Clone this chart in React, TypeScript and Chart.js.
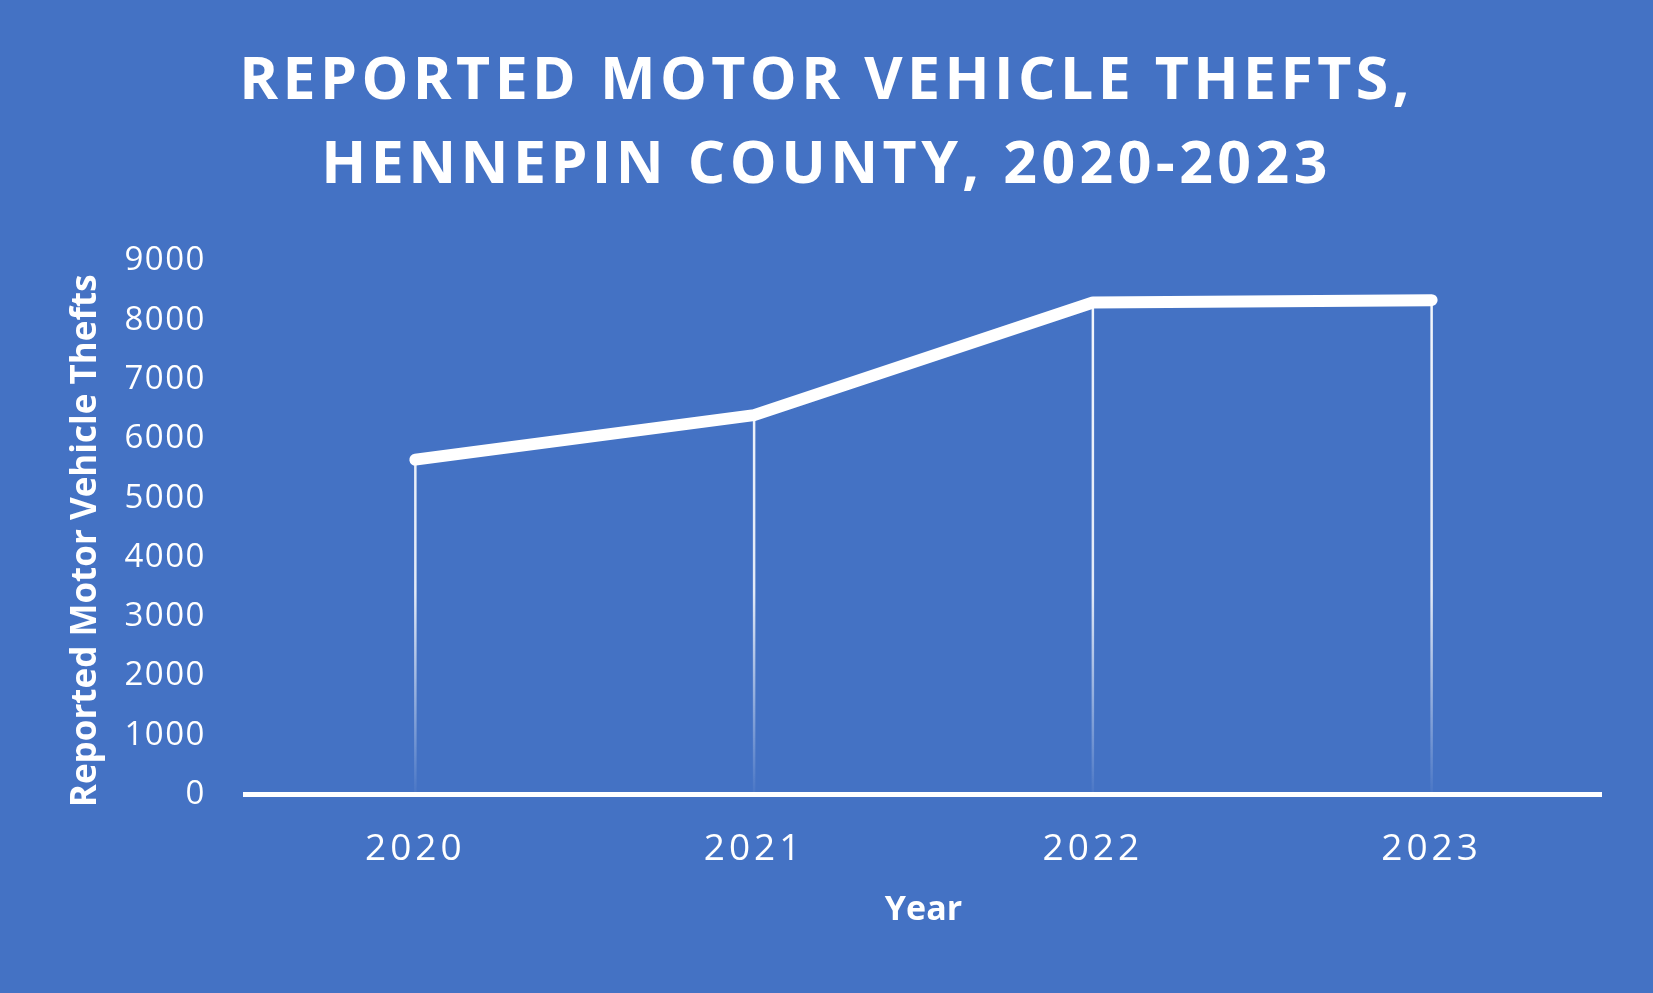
import React, { useEffect, useRef } from "react";
import { Chart, registerables } from "chart.js";

Chart.register(...registerables);

// ---- data ----
const years: string[] = ["2020", "2021", "2022", "2023"];
const thefts: number[] = [5650, 6400, 8300, 8340];
const titleLines: string[] = ["REPORTED MOTOR VEHICLE THEFTS,", "HENNEPIN COUNTY, 2020-2023"];
const yAxisTitle = "Reported Motor Vehicle Thefts";
const xAxisTitle = "Year";
const yMin = 0;
const yMax = 9000;
const yStep = 1000;

const BG = "#4472C4";
const FONT = "'Open Sans', 'Noto Sans', sans-serif";

function patchDraw(obj: any, key: string, spacing: string, dy = 0) {
  if (!obj || obj["__sp_" + key]) return;
  const orig = obj[key];
  obj[key] = function (...args: any[]) {
    const ctx = this.ctx as any;
    ctx.save();
    ctx.letterSpacing = spacing;
    if (dy) ctx.translate(0, dy);
    try {
      return orig.apply(this, args);
    } finally {
      ctx.restore();
    }
  };
  obj["__sp_" + key] = true;
}

const spacingPlugin = {
  id: "letterSpacing",
  beforeDraw(chart: any) {
    patchDraw(chart.titleBlock, "draw", "4.4px");
    patchDraw(chart.scales.x, "drawLabels", "4px");
    patchDraw(chart.scales.y, "drawLabels", "1.5px");
    patchDraw(chart.scales.y, "drawTitle", "0px", 13);
  },
};

const dropLinePlugin = {
  id: "dropLines",
  beforeDatasetsDraw(chart: any) {
    const { ctx, chartArea, scales } = chart;
    const xs = scales.x;
    const ys = scales.y;
    const grad = ctx.createLinearGradient(0, chartArea.top, 0, chartArea.bottom);
    grad.addColorStop(0, "rgba(255,255,255,0.95)");
    grad.addColorStop(0.62, "rgba(255,255,255,0.85)");
    grad.addColorStop(1, "rgba(255,255,255,0.03)");
    ctx.save();
    ctx.strokeStyle = grad;
    ctx.lineWidth = 2.5;
    ctx.beginPath();
    thefts.forEach((v, i) => {
      const px = xs.getPixelForValue(i);
      ctx.moveTo(px, ys.getPixelForValue(v));
      ctx.lineTo(px, ys.getPixelForValue(yMin));
    });
    ctx.stroke();
    ctx.restore();
  },
};

export default function App() {
  const ref = useRef<HTMLCanvasElement | null>(null);

  useEffect(() => {
    if (!ref.current) return;
    const chart = new Chart(ref.current, {
      type: "line",
      data: {
        labels: years,
        datasets: [
          {
            label: yAxisTitle,
            data: thefts,
            borderColor: "#FFFFFF",
            borderWidth: 12,
            borderCapStyle: "round",
            borderJoinStyle: "round",
            pointRadius: 0,
            pointHoverRadius: 0,
            tension: 0,
            fill: false,
          },
        ],
      },
      options: {
        animation: false,
        responsive: true,
        maintainAspectRatio: false,
        layout: { padding: { left: 52, right: 52, top: 0, bottom: 0 } },
        plugins: {
          legend: { display: false },
          tooltip: { enabled: false },
          title: {
            display: true,
            text: titleLines,
            color: "#FFFFFF",
            font: { family: FONT, size: 59, weight: "bold", lineHeight: 84 / 59 },
            padding: { top: 40, bottom: 53 },
          },
        },
        scales: {
          x: {
            type: "category",
            offset: true,
            grid: { display: false, drawTicks: false },
            border: { display: true, color: "#FFFFFF", width: 5 },
            ticks: {
              color: "#FFFFFF",
              padding: 33,
              font: { family: FONT, size: 37, weight: "normal", lineHeight: 1.2 },
            },
            title: {
              display: true,
              text: xAxisTitle,
              color: "#FFFFFF",
              font: { family: FONT, size: 34, weight: "bold", lineHeight: 1.2 },
              padding: { top: -14.8, bottom: 62 },
            },
          },
          y: {
            min: yMin,
            max: yMax,
            grid: { display: false, drawTicks: false },
            border: { display: false },
            ticks: {
              stepSize: yStep,
              color: "#FFFFFF",
              padding: 40,
              font: { family: FONT, size: 33, weight: "normal", lineHeight: 1.2 },
              callback: (value: any) => String(value),
            },
            title: {
              display: true,
              text: yAxisTitle,
              color: "#FFFFFF",
              font: { family: FONT, size: 35, weight: "bold", lineHeight: 1.2 },
              padding: { top: 12.6, bottom: -16.1 },
            },
          },
        },
      },
      plugins: [spacingPlugin, dropLinePlugin],
    });
    chart.draw();
    return () => chart.destroy();
  }, []);

  return (
    <div
      style={{
        position: "fixed",
        left: 0,
        top: 0,
        width: "1653px",
        height: "993px",
        background: BG,
      }}
    >
      <canvas ref={ref} />
    </div>
  );
}
